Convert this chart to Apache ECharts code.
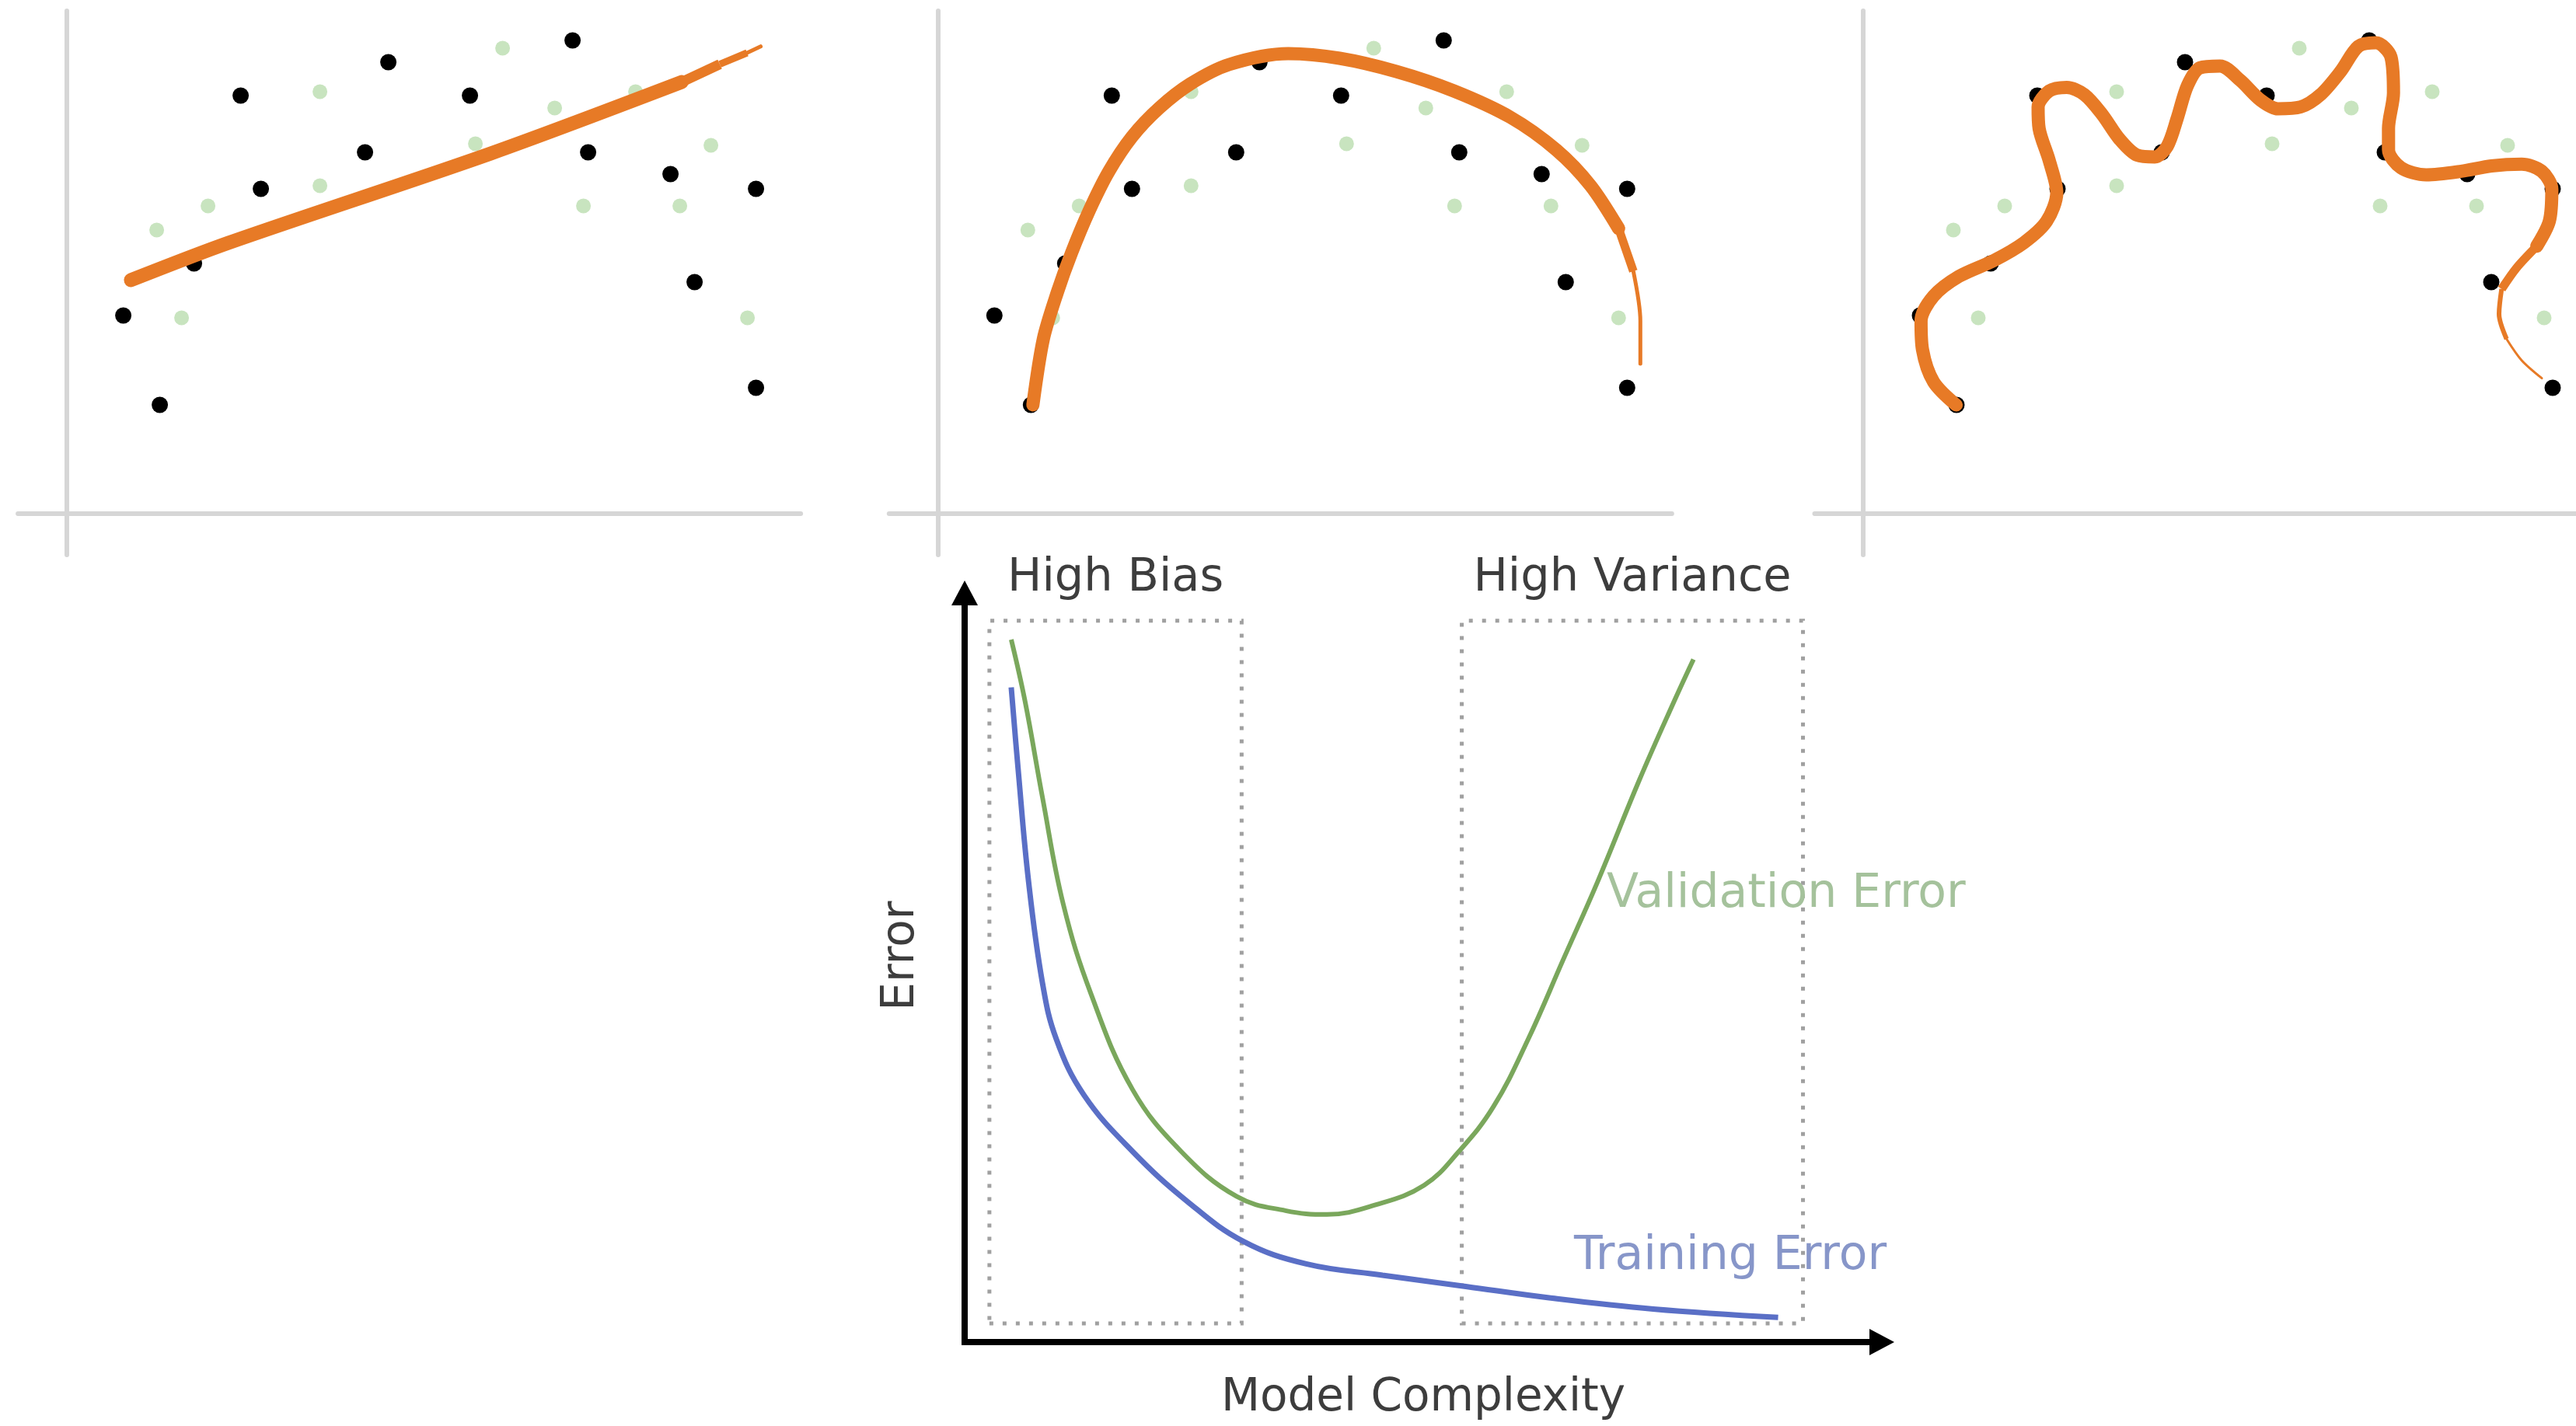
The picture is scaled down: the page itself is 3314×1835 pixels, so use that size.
<!DOCTYPE html>
<html>
<head>
<meta charset="utf-8">
<script src="https://cdn.jsdelivr.net/npm/echarts@6/dist/echarts.min.js"></script>
<style>
  html, body { margin: 0; padding: 0; background: #fff; }
  #chart { width: 3314px; height: 1835px; }
</style>
</head>
<body>
<div id="chart"></div>
<script>
// sample points, same in all three fit panels
const blackX = [7.3, 12.0, 16.4, 22.4, 25.0, 38.4, 41.4, 51.9, 65.1, 67.1, 77.7, 80.8, 88.7, 88.7];
const blackY = [25.5, 14.0, 32.2, 53.8, 41.8, 46.5, 58.1, 53.8, 60.9, 46.5, 43.7, 29.8, 41.8, 16.2];
const greenX = [11.6, 14.8, 18.2, 32.6, 32.6, 52.6, 56.1, 62.8, 66.5, 73.2, 78.9, 82.9, 87.6];
const greenY = [36.5, 25.2, 39.6, 54.3, 42.2, 47.6, 59.9, 52.2, 39.6, 54.3, 39.6, 47.4, 25.2];

// fitted curves (underfit / good fit / overfit)
const linearX = [8.28, 20.9, 54.58, 79.13, 84.04, 87.55, 89.3];
const linearY = [30.06, 34.88, 46.36, 55.54, 57.84, 59.3, 60.13];
const arcX = [12.25, 13.6, 15.4, 17.2, 19.5, 22.0, 25.0, 28.5, 32.5, 37.5, 45.1, 51.7, 59.0, 66.4, 73.7, 79.6, 84.0, 87.6, 89.5, 90.4, 90.4];
const arcY = [13.99, 22.5, 28.5, 33.5, 39.0, 44.0, 48.5, 52.2, 55.3, 57.8, 59.2, 58.6, 56.9, 54.4, 51.0, 46.8, 42.2, 36.7, 31.2, 24.8, 19.3];
const wiggleX = [11.96, 9.05, 7.63, 7.44, 9.05, 12.29, 16.81, 20.69, 23.60, 24.90, 23.93, 22.63, 22.50, 23.93, 26.19, 28.45, 30.72, 32.98, 35.24, 37.51, 39.12, 40.42, 41.71, 43.33, 45.91, 48.50, 51.09, 53.35, 56.26, 58.85, 61.43, 63.70, 65.96, 67.90, 68.22, 67.58, 67.58, 69.19, 72.43, 76.95, 80.83, 84.71, 87.30, 88.59, 88.27, 86.65, 84.07, 82.13, 81.80, 82.77, 84.71, 87.30];
const wiggleY = [13.99, 16.97, 21.10, 24.78, 27.99, 30.52, 32.58, 34.88, 37.63, 41.31, 45.44, 49.57, 52.33, 54.39, 54.85, 53.93, 51.41, 48.19, 46.13, 45.90, 47.28, 50.95, 55.08, 57.38, 57.61, 55.77, 53.24, 52.10, 52.33, 53.93, 56.92, 60.13, 60.59, 58.75, 54.16, 49.57, 46.82, 44.52, 43.60, 44.06, 44.75, 44.98, 44.06, 41.77, 37.63, 34.42, 31.66, 28.91, 25.70, 22.48, 19.73, 17.43];

// error vs model complexity
const validationX = [5.08, 6.59, 8.48, 10.75, 13.78, 18.31, 23.61, 29.67, 34.97, 39.50, 44.80, 50.09, 53.88, 57.66, 61.45, 65.23, 69.02, 73.55, 77.34, 79.46];
const validationY = [93.77, 85.51, 72.75, 58.47, 46.46, 33.70, 25.44, 19.43, 17.55, 17.03, 18.31, 20.93, 25.44, 31.44, 40.46, 50.97, 61.48, 75.00, 85.51, 91.14];
const trainingX = [5.08, 5.83, 6.97, 8.48, 9.99, 13.02, 18.31, 24.37, 30.42, 37.24, 45.56, 54.64, 63.72, 75.07, 88.69];
const trainingY = [87.39, 76.50, 61.48, 47.97, 40.46, 32.95, 25.44, 18.68, 13.42, 10.43, 8.92, 7.42, 5.91, 4.42, 3.29];
const zoneNames = ['High Bias', 'High Variance'];
const zoneX = [[2.7, 30.2], [54.2, 91.4]];
const zoneY = [2.5, 96.3];

const zip = (xs, ys) => xs.map((x, i) => [x, ys[i]]);
const FONT = 'DejaVu Sans';
const ORANGE = '#e77a26';

const chart = echarts.init(document.getElementById('chart'));

const panelAxisX = [85.6, 1206.3, 2397];
const grid = [];
const xAxis = [];
const yAxis = [];
const series = [];

const bareAxis = (idx, min, max) => ({
  gridIndex: idx,
  type: 'value',
  min: min,
  max: max,
  axisLine: { onZero: true, lineStyle: { color: '#d6d6d6', width: 6 } },
  axisTick: { show: false },
  axisLabel: { show: false },
  splitLine: { show: false },
});

const fitLine = (idx, data, width, cap) => ({
  type: 'line',
  xAxisIndex: idx,
  yAxisIndex: idx,
  data: data,
  symbol: 'none',
  smooth: 0.3,
  z: 5,
  lineStyle: { color: ORANGE, width: width, cap: cap, join: 'round' },
});

const linear = zip(linearX, linearY);
const arc = zip(arcX, arcY);
const wiggle = zip(wiggleX, wiggleY);
// thick body, then thinner tail pieces
const fits = [
  [[linear.slice(0, 4), 18, 'round'], [linear.slice(3, 5), 13, 'butt'], [linear.slice(4, 6), 9, 'butt'], [linear.slice(5), 5, 'round']],
  [[arc.slice(0, 18), 17, 'round'], [arc.slice(17, 19), 11, 'butt'], [arc.slice(18), 5, 'round']],
  [[wiggle.slice(0, 46), 17, 'round'], [wiggle.slice(45, 48), 11, 'butt'], [wiggle.slice(47, 50), 6, 'butt'], [wiggle.slice(49), 3, 'round']],
];

panelAxisX.forEach((ax, i) => {
  grid.push({ left: ax - 62.5, top: 14, width: 1007, height: 700, outerBoundsMode: 'none' });
  xAxis.push(bareAxis(i, -6.25, 94.45));
  yAxis.push(bareAxis(i, -5.3, 64.7));
  series.push({
    type: 'scatter', xAxisIndex: i, yAxisIndex: i, z: 2,
    data: zip(greenX, greenY), symbolSize: 19,
    itemStyle: { color: '#c8e4bf', opacity: 1 },
  });
  series.push({
    type: 'scatter', xAxisIndex: i, yAxisIndex: i, z: 3,
    data: zip(blackX, blackY), symbolSize: 21,
    itemStyle: { color: '#000', opacity: 1 },
  });
  fits[i].forEach(([d, w, c]) => series.push(fitLine(i, d, w, c)));
});

// bottom error chart
grid.push({ left: 1241, top: 763, width: 1180, height: 964, outerBoundsMode: 'none' });
const arrowAxis = {
  gridIndex: 3,
  type: 'value',
  min: 0,
  max: 100,
  axisLine: {
    lineStyle: { color: '#000', width: 8, cap: 'square' },
    symbol: ['none', 'triangle'],
    symbolSize: [34, 32],
  },
  axisTick: { show: false },
  axisLabel: { show: false },
  splitLine: { show: false },
  nameLocation: 'middle',
  nameTextStyle: { fontSize: 58, color: '#3d3d3d', fontFamily: FONT },
};
xAxis.push(Object.assign({}, arrowAxis, { name: 'Model Complexity', nameGap: 44 }));
yAxis.push(Object.assign({}, arrowAxis, {
  name: 'Error', nameGap: 52, nameRotate: 90,
  nameTextStyle: Object.assign({}, arrowAxis.nameTextStyle, { padding: [0, 0, 0, 30] }),
}));

series.push({
  type: 'line', xAxisIndex: 3, yAxisIndex: 3,
  data: zip(validationX, validationY),
  symbol: 'none', smooth: 0.4,
  lineStyle: { color: '#7aa75c', width: 6 },
  markArea: {
    silent: true,
    itemStyle: {
      color: 'rgba(0,0,0,0)',
      borderColor: '#a0a0a0',
      borderWidth: 5,
      borderType: [5, 12],
    },
    label: {
      show: true, position: 'top', distance: 22,
      fontSize: 59, color: '#3d3d3d', fontFamily: FONT,
    },
    data: zoneNames.map((n, i) => [
      { name: n, xAxis: zoneX[i][0], yAxis: zoneY[0] },
      { xAxis: zoneX[i][1], yAxis: zoneY[1] },
    ]),
  },
});
series.push({
  type: 'line', xAxisIndex: 3, yAxisIndex: 3,
  data: zip(trainingX, trainingY),
  symbol: 'none', smooth: 0.4,
  lineStyle: { color: '#5a6fc6', width: 7 },
});

chart.setOption({
  animation: false,
  backgroundColor: '#fff',
  grid: grid,
  xAxis: xAxis,
  yAxis: yAxis,
  series: series,
  graphic: [
    {
      type: 'text', x: 2067, y: 1151, z: 10,
      style: {
        text: 'Validation Error', fill: '#a5c29c', fontSize: 60,
        fontFamily: FONT, align: 'left', verticalAlign: 'middle',
      },
    },
    {
      type: 'text', x: 2025, y: 1617, z: 10,
      style: {
        text: 'Training Error', fill: '#8796c9', fontSize: 60,
        fontFamily: FONT, align: 'left', verticalAlign: 'middle',
      },
    },
  ],
});
</script>
</body>
</html>
